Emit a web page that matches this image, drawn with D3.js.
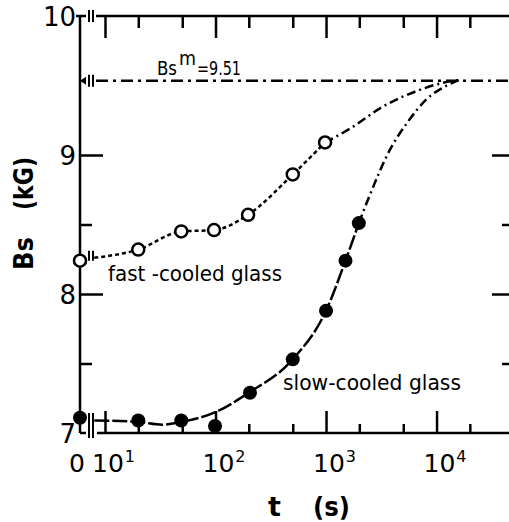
<!DOCTYPE html>
<html>
<head>
<meta charset="utf-8">
<script src="https://cdn.jsdelivr.net/npm/d3@7"></script>
<style>
  body { margin: 0; background: #fff; }
  text { font-family: "DejaVu Sans", sans-serif; fill: #000; }
</style>
</head>
<body>
<div id="chart"></div>
<script>
// data (t in s, Bs in kG)
var fastT  = [0, 20, 49, 97, 197, 500, 980];
var fastBs = [8.24, 8.32, 8.45, 8.46, 8.57, 8.86, 9.09];

var slowT  = [0, 20, 49, 99, 205, 500, 1000, 1500, 1980];
var slowBs = [7.11, 7.09, 7.09, 7.05, 7.29, 7.53, 7.88, 8.24, 8.51];

// hand-drawn guide curves
var fastFitT   = [8, 20, 49, 97, 197, 500, 980];
var fastFitBs  = [8.26, 8.32, 8.45, 8.46, 8.57, 8.86, 9.09];
var fastTailT  = [980, 1650, 3300, 6600, 11500, 16000];
var fastTailBs = [9.09, 9.19, 9.35, 9.46, 9.52, 9.54];

var slowFitT   = [8, 20, 33, 49, 100, 200, 500, 1000, 1500, 1980];
var slowFitBs  = [7.09, 7.08, 7.06, 7.08, 7.15, 7.29, 7.53, 7.88, 8.24, 8.51];
var slowTailT  = [1980, 2400, 3800, 5400, 8100, 12400, 16000];
var slowTailBs = [8.51, 8.68, 9.04, 9.23, 9.40, 9.50, 9.54];

var bsMax = 9.535;       // drawn level of the Bs^m line
var bsMaxLabel = "9.51";

// ticks
var xMajor = [10, 100, 1000, 10000];
var xMinor = [20, 50, 200, 500, 2000, 5000, 20000];
var xExp   = [1, 2, 3, 4];
var yMajor = [8, 9];
var yMinor = [7.5, 8.5];
var yLabels = [7, 8, 9, 10];

var W = 509, H = 522;
var x0 = 80, breakX = [89, 93];

var x = d3.scaleLog().domain([10, 46200]).range([105, 510]);
var y = d3.scaleLinear().domain([7, 10]).range([433, 16]);
function xp(t) { return t === 0 ? x0 : x(t); }

var svg = d3.select("#chart").append("svg")
    .attr("width", W).attr("height", H);

var lw = 2.5;

// axis lines with breaks
var frame = svg.append("g").attr("stroke", "#000").attr("stroke-width", lw).attr("fill", "none");
frame.append("path").attr("d", "M" + x0 + "," + y(10) + "V" + y(7));
frame.append("path").attr("d", "M76," + y(10) + "H86M96," + y(10) + "H510");
frame.append("path").attr("d", "M" + x0 + "," + y(7) + "H86M97," + y(7) + "H510");

function ticks(axis, tx, ty, vals, len) {
    var g = svg.append("g")
        .attr("transform", "translate(" + tx + "," + ty + ")")
        .call(axis.tickValues(vals).tickSizeInner(-len).tickSizeOuter(0).tickFormat(""));
    g.select(".domain").remove();
    g.selectAll("line").attr("stroke-width", lw);
}
ticks(d3.axisBottom(x), 0, y(7), xMajor, 22);
ticks(d3.axisBottom(x), 0, y(7), xMinor, 9);
ticks(d3.axisTop(x), 0, y(10), xMajor, 22);
ticks(d3.axisTop(x), 0, y(10), xMinor, 12);
ticks(d3.axisLeft(y), x0, 0, yMajor, 23);
ticks(d3.axisLeft(y), x0, 0, yMinor, 12);
ticks(d3.axisRight(y), 510, 0, yMajor, 18);
ticks(d3.axisRight(y), 510, 0, yMinor, 8);

// break marks "||"
var breaks = [[y(10) - 6, y(10) + 6], [y(bsMax) - 6, y(bsMax) + 6],
              [y(8.26) - 7, y(8.26) + 3], [y(7) - 20, y(7) + 5]];
breaks.forEach(function(b) {
    breakX.forEach(function(bx) {
        svg.append("line").attr("x1", bx).attr("x2", bx).attr("y1", b[0]).attr("y2", b[1])
            .attr("stroke", "#000").attr("stroke-width", 2);
    });
});
svg.append("path")
    .attr("d", "M" + x0 + "," + y(bsMax) + "l6,-4v8z")
    .attr("fill", "#000");

// curves
var line = d3.line().x(d => x(d[0])).y(d => y(d[1])).curve(d3.curveMonotoneX);
function curve(ts, bs, dash) {
    svg.append("path")
        .datum(ts.map((t, i) => [t, bs[i]]))
        .attr("d", line)
        .attr("fill", "none").attr("stroke", "#000").attr("stroke-width", lw)
        .attr("stroke-dasharray", dash);
}
// asymptote
svg.append("line")
    .attr("x1", 96).attr("x2", W).attr("y1", y(bsMax)).attr("y2", y(bsMax))
    .attr("stroke", "#000").attr("stroke-width", lw).attr("stroke-dasharray", "12,5,3,5");
curve(fastFitT, fastFitBs, "4,3");
curve(fastTailT, fastTailBs, "9,4,2,4");
curve(slowFitT, slowFitBs, "15,3");
curve(slowTailT, slowTailBs, "9,4,2,4");

// points
svg.append("g").selectAll("circle")
    .data(fastT.map((t, i) => [t, fastBs[i]]))
    .enter().append("circle")
    .attr("cx", d => xp(d[0])).attr("cy", d => y(d[1])).attr("r", 6)
    .attr("fill", "#fff").attr("stroke", "#000").attr("stroke-width", 2.5);
svg.append("g").selectAll("circle")
    .data(slowT.map((t, i) => [t, slowBs[i]]))
    .enter().append("circle")
    .attr("cx", d => xp(d[0])).attr("cy", d => y(d[1])).attr("r", 7)
    .attr("fill", "#000");

// y tick labels
svg.append("g").selectAll("text")
    .data(yLabels).enter().append("text")
    .attr("x", 76).attr("y", d => y(d) + 10)
    .attr("text-anchor", "end").attr("font-size", 26)
    .text(d => d);

// x tick labels
svg.append("text").attr("x", 77).attr("y", 472)
    .attr("text-anchor", "middle").attr("font-size", 25).text("0");
xMajor.forEach(function(v, i) {
    var t = svg.append("text").attr("x", x(v) - 13).attr("y", 472).attr("font-size", 25);
    t.append("tspan").text("10");
    t.append("tspan").attr("dx", 1).attr("dy", -10).attr("font-size", 16).text(xExp[i]);
});

// axis titles
svg.append("text").attr("transform", "translate(33,270) rotate(-90)")
    .attr("font-size", 27).attr("font-weight", "bold")
    .attr("textLength", 33).attr("lengthAdjust", "spacingAndGlyphs").text("Bs");
svg.append("text").attr("transform", "translate(33,210) rotate(-90)")
    .attr("font-size", 27).attr("font-weight", "bold")
    .attr("textLength", 53).attr("lengthAdjust", "spacingAndGlyphs").text("(kG)");
svg.append("text").attr("x", 268).attr("y", 516)
    .attr("font-size", 27).attr("font-weight", "bold").text("t");
svg.append("text").attr("x", 313).attr("y", 516)
    .attr("font-size", 27).attr("font-weight", "bold")
    .attr("textLength", 37).attr("lengthAdjust", "spacingAndGlyphs").text("(s)");

// annotations
svg.append("text").attr("x", 157).attr("y", 75).attr("font-size", 19)
    .attr("textLength", 20).attr("lengthAdjust", "spacingAndGlyphs").text("Bs");
svg.append("text").attr("x", 179).attr("y", 65).attr("font-size", 19)
    .attr("textLength", 17).attr("lengthAdjust", "spacingAndGlyphs").text("m");
svg.append("text").attr("x", 197).attr("y", 75).attr("font-size", 19)
    .attr("textLength", 44).attr("lengthAdjust", "spacingAndGlyphs").text("=" + bsMaxLabel);

svg.append("text").attr("x", 108).attr("y", 281).attr("font-size", 21)
    .attr("textLength", 174).attr("lengthAdjust", "spacingAndGlyphs").text("fast -cooled glass");
svg.append("text").attr("x", 283).attr("y", 390).attr("font-size", 21)
    .attr("textLength", 178).attr("lengthAdjust", "spacingAndGlyphs").text("slow-cooled glass");
</script>
</body>
</html>
